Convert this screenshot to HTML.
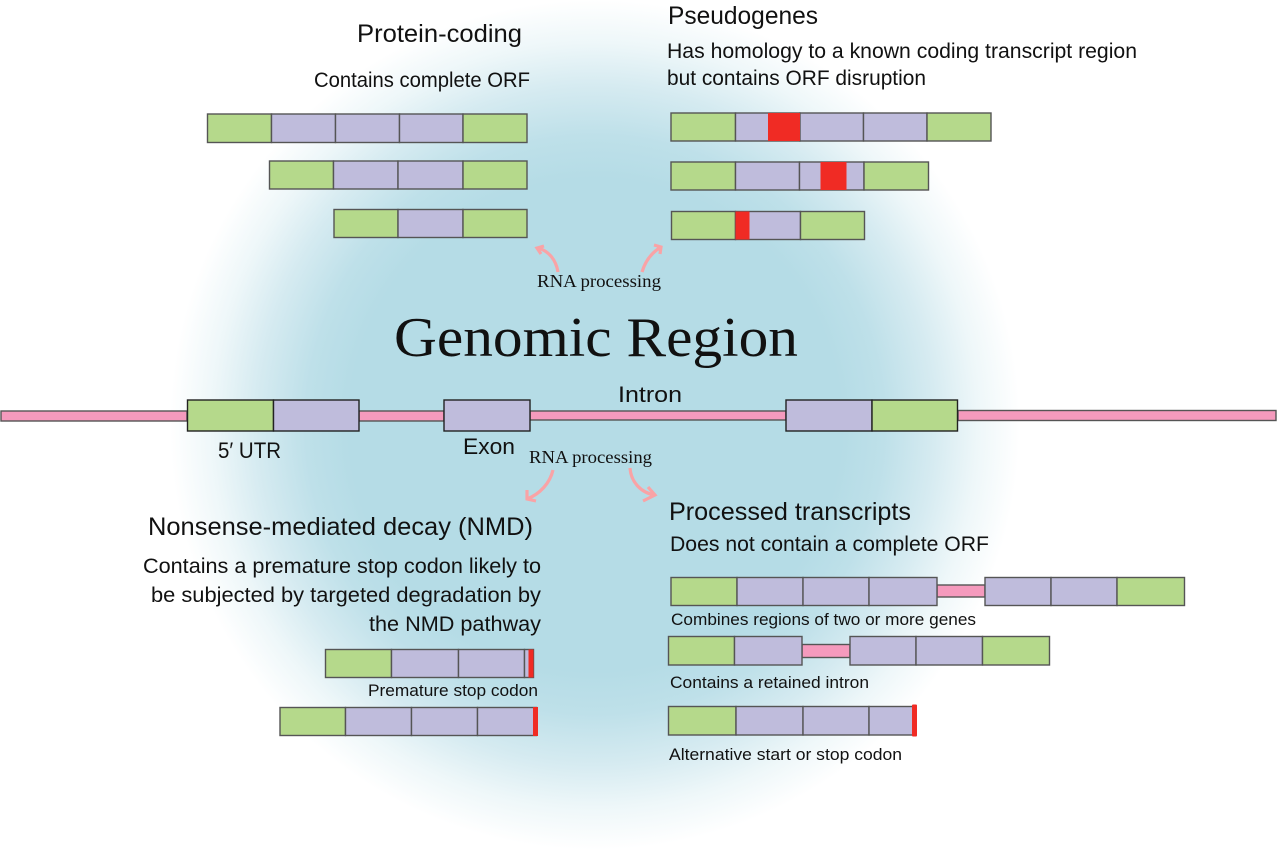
<!DOCTYPE html>
<html><head><meta charset="utf-8"><style>
html,body{margin:0;padding:0;background:#fff}
svg{display:block}
text{font-family:"Liberation Sans",sans-serif;fill:#111}
.s{font-family:"Liberation Serif",serif}
.g{fill:#b5d98b}.p{fill:#bfbcdc}.r{fill:#f02b24}.i{fill:#f59abd}
.b rect{stroke:#555;stroke-width:1.4}
.b line{stroke:#444;stroke-width:1.4}
.a{fill:none;stroke:#f9a3a6;stroke-width:3.2}
</style></head><body>
<svg width="1277" height="856" viewBox="0 0 1277 856" xmlns="http://www.w3.org/2000/svg">
<defs><radialGradient id="bg" gradientUnits="userSpaceOnUse" cx="595" cy="425" r="425">
<stop offset="0" stop-color="#b5dce6"/><stop offset="0.58" stop-color="#b5dce6"/><stop offset="0.68" stop-color="#bee0e9"/><stop offset="0.8" stop-color="#d6ebf1"/><stop offset="0.9" stop-color="#eef7f9"/><stop offset="1" stop-color="#fff"/></radialGradient></defs>
<rect width="1277" height="856" fill="#fff"/>
<circle cx="595" cy="425" r="425" fill="url(#bg)"/>

<!-- Protein-coding -->
<text x="357" y="42" font-size="25" textLength="165" lengthAdjust="spacingAndGlyphs">Protein-coding</text>
<text x="314" y="87" font-size="21" textLength="216" lengthAdjust="spacingAndGlyphs">Contains complete ORF</text>
<g class="b">
<rect class="g" x="207.5" y="114" width="64" height="28.500"/><rect class="p" x="271.500" y="114" width="64" height="28.500"/><rect class="p" x="335.500" y="114" width="64" height="28.500"/><rect class="p" x="399.500" y="114" width="63.500" height="28.500"/><rect class="g" x="463" y="114" width="64" height="28.500"/>
<rect class="g" x="269.500" y="161" width="64" height="28"/><rect class="p" x="333.500" y="161" width="64.500" height="28"/><rect class="p" x="398" y="161" width="65" height="28"/><rect class="g" x="463" y="161" width="64" height="28"/>
<rect class="g" x="334" y="209.500" width="64" height="28"/><rect class="p" x="398" y="209.500" width="65" height="28"/><rect class="g" x="463" y="209.500" width="64" height="28"/>
</g>

<!-- Pseudogenes -->
<text x="668" y="24" font-size="25" textLength="150" lengthAdjust="spacingAndGlyphs">Pseudogenes</text>
<text x="667" y="58" font-size="21" textLength="470" lengthAdjust="spacingAndGlyphs">Has homology to a known coding transcript region</text>
<text x="667" y="85" font-size="21" textLength="259" lengthAdjust="spacingAndGlyphs">but contains ORF disruption</text>
<g class="b">
<rect class="g" x="671" y="113" width="64.500" height="28"/><rect class="p" x="735.500" y="113" width="64.500" height="28"/><rect class="p" x="800" y="113" width="63.500" height="28"/><rect class="p" x="863.500" y="113" width="63.500" height="28"/><rect class="g" x="927" y="113" width="64" height="28"/>
<rect class="g" x="671" y="162" width="64.500" height="28"/><rect class="p" x="735.500" y="162" width="64" height="28"/><rect class="p" x="799.500" y="162" width="64.500" height="28"/><rect class="g" x="864" y="162" width="64.500" height="28"/>
<rect class="g" x="671.500" y="211.500" width="64" height="28"/><rect class="p" x="735.500" y="211.500" width="65" height="28"/><rect class="g" x="800.500" y="211.500" width="64" height="28"/>
</g>
<rect class="r" x="768" y="113" width="32" height="28"/>
<rect class="r" x="820.500" y="162" width="26" height="28"/>
<rect class="r" x="735.500" y="211.500" width="14" height="28"/>

<!-- top arrows -->
<path class="a" d="M558 272C556 260 549 251 538 248M544 246L537 248L541 254"/>
<path class="a" d="M642 272C645 262 651 253 661 247M654 245L661 247L660 254"/>
<text class="s" x="537" y="287" font-size="17.500" textLength="124" lengthAdjust="spacingAndGlyphs">RNA processing</text>

<text class="s" x="394" y="356" font-size="56" textLength="404" lengthAdjust="spacingAndGlyphs">Genomic Region</text>

<!-- Genomic line -->
<g class="b">
<rect class="i" x="1" y="411" width="186" height="10"/>
<rect class="i" x="359" y="411" width="85" height="10"/>
<rect class="i" x="530" y="411" width="256" height="9"/>
<rect class="i" x="958" y="410.500" width="318" height="10"/>
</g>
<g stroke="#222" stroke-width="1.400">
<rect class="g" x="187.500" y="400" width="86" height="31"/><rect class="p" x="273.500" y="400" width="85.500" height="31"/>
<rect class="p" x="444" y="400" width="86" height="31"/>
<rect class="p" x="786" y="400" width="86" height="31"/><rect class="g" x="872" y="400" width="85.500" height="31"/>
</g>
<text x="618" y="402" font-size="22" textLength="64" lengthAdjust="spacingAndGlyphs">Intron</text>
<text x="218" y="458" font-size="22" textLength="63" lengthAdjust="spacingAndGlyphs">5′ UTR</text>
<text x="463" y="454" font-size="22" textLength="52" lengthAdjust="spacingAndGlyphs">Exon</text>
<text class="s" x="529" y="463" font-size="17.500" textLength="123" lengthAdjust="spacingAndGlyphs">RNA processing</text>

<!-- bottom arrows -->
<path class="a" d="M553 470C550 483 540 494 527 499M527 490L527 499L536 501"/>
<path class="a" d="M630 468C631 482 641 493 655 495M648 487L655 495L643 501"/>

<!-- NMD -->
<text x="148" y="535" font-size="25" textLength="385" lengthAdjust="spacingAndGlyphs">Nonsense-mediated decay (NMD)</text>
<text x="143" y="573" font-size="21" textLength="398" lengthAdjust="spacingAndGlyphs">Contains a premature stop codon likely to</text>
<text x="151" y="602" font-size="21" textLength="390" lengthAdjust="spacingAndGlyphs">be subjected by targeted degradation by</text>
<text x="369" y="631" font-size="21" textLength="172" lengthAdjust="spacingAndGlyphs">the NMD pathway</text>
<g class="b">
<rect class="g" x="325.500" y="649.500" width="66" height="28"/><rect class="p" x="391.500" y="649.500" width="67" height="28"/><rect class="p" x="458.500" y="649.500" width="66" height="28"/><rect class="p" x="524.500" y="649.500" width="9" height="28"/>
<rect class="g" x="280" y="707.500" width="65.500" height="28"/><rect class="p" x="345.500" y="707.500" width="66" height="28"/><rect class="p" x="411.500" y="707.500" width="66" height="28"/><rect class="p" x="477.500" y="707.500" width="59" height="28"/>
</g>
<rect class="r" x="528.500" y="649.500" width="5" height="28"/>
<rect class="r" x="533" y="707" width="5" height="29"/>
<text x="368" y="696" font-size="17" textLength="170" lengthAdjust="spacingAndGlyphs">Premature stop codon</text>

<!-- Processed -->
<text x="669" y="520" font-size="25" textLength="242" lengthAdjust="spacingAndGlyphs">Processed transcripts</text>
<text x="670" y="551" font-size="21" textLength="319" lengthAdjust="spacingAndGlyphs">Does not contain a complete ORF</text>
<g class="b">
<rect class="i" x="937" y="585" width="48" height="12"/>
<rect class="g" x="671" y="577.500" width="66" height="28"/><rect class="p" x="737" y="577.500" width="66" height="28"/><rect class="p" x="803" y="577.500" width="66" height="28"/><rect class="p" x="869" y="577.500" width="68" height="28"/>
<rect class="p" x="985" y="577.500" width="66" height="28"/><rect class="p" x="1051" y="577.500" width="66" height="28"/><rect class="g" x="1117" y="577.500" width="67.500" height="28"/>
<rect class="i" x="802" y="644.500" width="48" height="13"/>
<rect class="g" x="668.500" y="636.500" width="66" height="28.500"/><rect class="p" x="734.500" y="636.500" width="67.500" height="28.500"/>
<rect class="p" x="850" y="636.500" width="66" height="28.500"/><rect class="p" x="916" y="636.500" width="66.500" height="28.500"/><rect class="g" x="982.500" y="636.500" width="67" height="28.500"/>
<rect class="g" x="668.500" y="706.500" width="67.500" height="28.500"/><rect class="p" x="736" y="706.500" width="67" height="28.500"/><rect class="p" x="803" y="706.500" width="66" height="28.500"/><rect class="p" x="869" y="706.500" width="44" height="28.500"/>
</g>
<rect class="r" x="912" y="704.500" width="5" height="32" rx="1"/>
<text x="671" y="625" font-size="17" textLength="305" lengthAdjust="spacingAndGlyphs">Combines regions of two or more genes</text>
<text x="670" y="688" font-size="17" textLength="199" lengthAdjust="spacingAndGlyphs">Contains a retained intron</text>
<text x="669" y="760" font-size="17" textLength="233" lengthAdjust="spacingAndGlyphs">Alternative start or stop codon</text>
</svg>
</body></html>
